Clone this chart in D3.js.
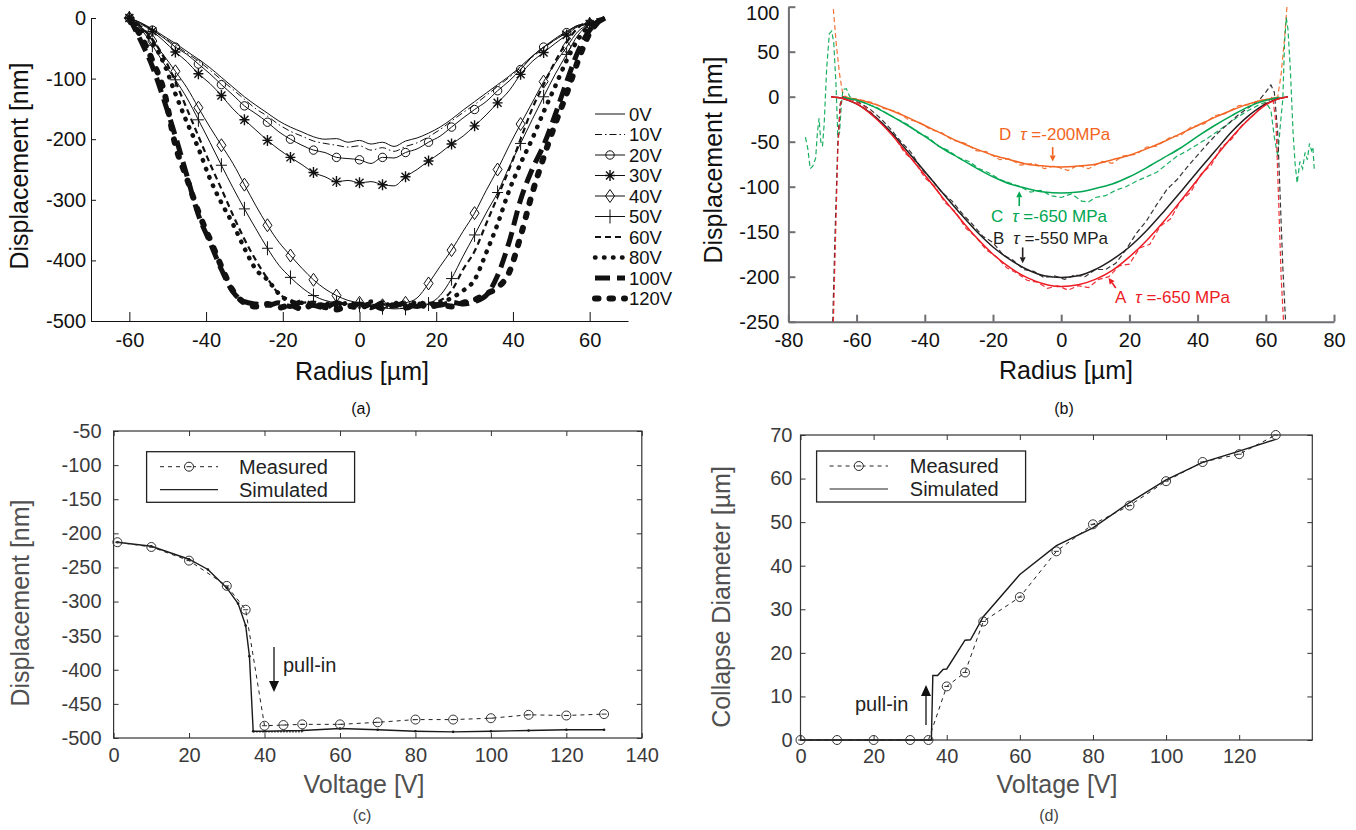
<!DOCTYPE html>
<html><head><meta charset="utf-8">
<script src="https://cdn.jsdelivr.net/npm/d3@7/dist/d3.min.js"></script>
<style>html,body{margin:0;padding:0;background:#fff;}</style>
</head><body>
<svg id="fig" width="1356" height="830" xmlns="http://www.w3.org/2000/svg"></svg>
<script>
// ======================= DATA =======================
// ---- Panel (a): displacement profiles vs radius for each bias voltage ----
const radiusA = [-60,-57,-54,-51,-48,-45,-42,-39,-36,-33,-30,-27,-24,-21,-18,-15,-12,-9,-6,-3,0,3,6,9,12,15,18,21,24,27,30,33,36,39,42,45,48,51,54,57,60,62,64];
const disp0V   = [0,-8,-18,-30,-42,-55,-68,-82,-98,-114,-130,-144,-157,-170,-180,-188,-196,-200,-199,-205,-202,-208,-205,-212,-203,-198,-190,-180,-167,-152,-138,-124,-110,-96,-80,-63,-48,-34,-22,-12,-8,-4,0];
const disp10V  = [0,-9,-20,-32,-45,-58,-71,-86,-102,-118,-134,-150,-162,-176,-187,-195,-203,-207,-210,-213,-211,-218,-214,-220,-212,-206,-196,-184,-170,-156,-143,-128,-113,-98,-82,-65,-50,-36,-24,-13,-9,-4,0];
const disp20V  = [0,-8,-20,-33,-48,-60,-76,-92,-110,-127,-145,-158,-172,-188,-200,-210,-218,-222,-230,-232,-234,-240,-230,-231,-222,-216,-205,-195,-180,-165,-151,-138,-120,-104,-85,-64,-48,-36,-24,-12,-10,-4,0];
const disp30V  = [0,-10,-22,-38,-56,-72,-92,-108,-128,-150,-168,-185,-202,-217,-230,-242,-255,-262,-270,-268,-272,-270,-275,-277,-262,-250,-236,-223,-208,-195,-178,-160,-140,-120,-93,-72,-57,-42,-28,-14,-10,-5,0];
const disp40V  = [0,-15,-38,-62,-88,-115,-148,-180,-210,-240,-275,-310,-342,-370,-392,-413,-432,-447,-458,-466,-470,-472,-474,-473,-470,-462,-438,-410,-383,-352,-322,-285,-250,-211,-175,-140,-105,-75,-48,-22,-10,-4,0];
const disp50V  = [0,-18,-45,-75,-102,-132,-168,-205,-243,-280,-315,-348,-380,-408,-428,-445,-458,-466,-470,-472,-474,-476,-478,-480,-479,-478,-472,-458,-430,-393,-358,-322,-288,-246,-207,-168,-130,-93,-60,-28,-10,-4,0];
const disp60V  = [0,-14,-35,-65,-105,-150,-195,-240,-282,-325,-365,-400,-430,-455,-465,-470,-468,-472,-470,-474,-471,-475,-472,-476,-473,-471,-470,-466,-450,-415,-385,-340,-295,-250,-200,-150,-110,-72,-40,-16,-5,-2,0];
const disp80V  = [0,-18,-40,-75,-125,-172,-215,-265,-305,-340,-380,-415,-432,-455,-468,-470,-475,-471,-476,-470,-474,-468,-475,-470,-474,-469,-472,-470,-462,-450,-432,-388,-340,-285,-240,-200,-155,-113,-70,-35,-12,-5,0];
const disp100V = [0,-38,-80,-135,-195,-260,-325,-370,-415,-452,-468,-472,-474,-470,-476,-468,-474,-478,-470,-476,-472,-478,-470,-475,-470,-476,-471,-474,-469,-472,-468,-458,-425,-370,-300,-250,-210,-160,-105,-55,-20,-8,0];
const disp120V = [0,-30,-70,-120,-210,-265,-320,-365,-410,-450,-470,-476,-472,-478,-474,-480,-473,-477,-481,-475,-478,-472,-479,-474,-478,-472,-477,-473,-476,-470,-465,-455,-445,-420,-360,-290,-230,-175,-125,-70,-25,-8,0];
const voltLabelsA = ['0V','10V','20V','30V','40V','50V','60V','80V','100V','120V'];
const radiusTicksA = [-60,-40,-20,0,20,40,60];
const dispTicksA = [0,-100,-200,-300,-400,-500];

// ---- Panel (b): simulated (solid) and measured (dashed) profiles ----
const radiusB = [-67.5,-64,-60,-55,-50,-45,-40,-35,-30,-25,-20,-15,-10,-5,0,5,10,15,20,25,30,35,40,45,50,55,60,64,66.5];
const simA = [0,-2,-8,-22,-41,-64,-87,-111,-134,-156,-175,-190,-201,-208,-211,-209,-203,-193,-178,-160,-139,-116,-92,-68,-45,-25,-9,-2,0];
const simB = [0,-2,-8,-21,-39,-61,-83,-106,-128,-149,-167,-181,-192,-199,-201,-199,-192,-181,-167,-149,-128,-106,-83,-61,-39,-21,-8,-2,0];
const simC = [null,-1,-4,-11,-21,-32,-44,-57,-68,-79,-89,-97,-102,-106,-107,-106,-102,-97,-89,-79,-68,-57,-44,-32,-21,-11,-4,-1,null];
const simD = [null,-1,-3,-8,-15,-23,-32,-41,-50,-58,-65,-70,-75,-77,-78,-77,-75,-70,-65,-58,-50,-41,-32,-23,-15,-8,-3,-1,null];
const measD = [[-67.2,115],[-66,60],[-65,25],[-64,2],[-62,-2],[-58,-4],[-55,-7],[-52,-13],[-48,-17],[-45,-25],[-42,-28],[-38,-37],[-35,-40],[-32,-48],[-28,-52],[-25,-60],[-22,-61],[-18,-70],[-15,-69],[-12,-76],[-8,-74],[-5,-80],[-2,-77],[2,-82],[5,-76],[8,-80],[12,-72],[15,-74],[18,-66],[22,-64],[25,-56],[28,-55],[32,-45],[35,-43],[38,-34],[42,-30],[45,-21],[48,-19],[52,-10],[55,-9],[58,-4],[62,-3],[63.5,0],[64.5,25],[65.5,65],[66.5,115]];
const measC = [[-75,-45],[-74.3,-58],[-73.6,-80],[-72.8,-77],[-72,-68],[-71.5,-40],[-71,-24],[-70.5,-50],[-70,-55],[-69.5,-30],[-68.8,30],[-68,70],[-67.3,73],[-66.7,60],[-66,10],[-65.5,-45],[-65,-40],[-64.5,-10],[-64,8],[-63,9],[-62,0],[-60,-3],[-57,-8],[-54,-12],[-51,-19],[-48,-25],[-45,-31],[-42,-40],[-39,-45],[-36,-55],[-33,-60],[-30,-68],[-27,-72],[-24,-80],[-21,-85],[-18,-92],[-15,-96],[-12,-100],[-9,-106],[-6,-104],[-3,-110],[0,-112],[3,-108],[6,-116],[8,-117],[10,-112],[13,-110],[16,-104],[19,-100],[22,-94],[25,-89],[28,-84],[31,-75],[34,-66],[37,-60],[40,-53],[43,-46],[46,-38],[49,-30],[52,-22],[55,-15],[58,-9],[60,-6],[61.5,-15],[62.5,-45],[63.5,-66],[64.3,-30],[65,-2],[65.5,60],[66,88],[66.5,75],[67.2,30],[68,-40],[68.6,-75],[69.2,-96],[70,-72],[70.8,-80],[71.5,-62],[72.2,-70],[72.8,-52],[73.4,-60],[73.8,-56],[74.2,-80]];
const measB = [[-67,-250],[-66.3,-150],[-65.5,-50],[-64.8,-8],[-64,0],[-62,-2],[-59,-7],[-56,-14],[-53,-24],[-50,-36],[-47,-50],[-44,-62],[-41,-80],[-38,-92],[-35,-106],[-32,-116],[-29,-130],[-26,-142],[-23,-155],[-20,-162],[-17,-176],[-14,-182],[-11,-192],[-8,-194],[-5,-201],[-2,-199],[1,-203],[4,-198],[7,-200],[10,-192],[13,-192],[16,-185],[19,-170],[22,-152],[25,-138],[28,-120],[31,-103],[34,-92],[37,-78],[40,-65],[43,-52],[46,-40],[49,-30],[52,-20],[55,-12],[58,-4],[60,5],[61.5,13],[62.5,5],[63.5,-40],[64.3,-120],[65,-190],[65.8,-250]];
const measA = [[-66.8,-250],[-66.2,-160],[-65.5,-60],[-64.8,-10],[-64,0],[-61,-4],[-58,-10],[-55,-20],[-52,-32],[-49,-44],[-46,-62],[-43,-72],[-40,-90],[-37,-100],[-34,-118],[-31,-128],[-28,-146],[-25,-156],[-22,-170],[-19,-178],[-16,-190],[-13,-196],[-10,-204],[-7,-206],[-4,-213],[-1,-210],[2,-215],[5,-210],[8,-212],[11,-203],[14,-200],[17,-188],[20,-186],[23,-168],[26,-164],[29,-144],[32,-136],[35,-116],[38,-106],[41,-86],[44,-76],[47,-56],[50,-47],[53,-32],[56,-22],[59,-10],[61,-4],[62,0],[63,-30],[63.8,-120],[64.5,-200],[65.2,-250]];
const caseLetters = ['A','B','C','D'];
const caseStress = ['-650 MPa','-550 MPa','-650 MPa','-200MPa'];
const radiusTicksB = [-80,-60,-40,-20,0,20,40,60,80];
const dispTicksB = [100,50,0,-50,-100,-150,-200,-250];

// ---- Panel (c): centre displacement vs voltage ----
const measVoltC = [1,10,20,30,35,40,45,50,60,70,80,90,100,110,120,130];
const measDispC = [-213,-220,-240,-277,-312,-482,-481,-480,-480,-477,-473,-473,-471,-466,-467,-465];
const simVoltC = [1,10,20,25,30,33,35,36,37,40,50,60,70,80,90,100,110,120,130];
const simDispC = [-213,-219,-238,-253,-280,-303,-335,-380,-490,-490,-489,-486,-488,-490,-491,-490,-489,-488,-488];
const floorVoltC = [37,50];
const floorDispC = [-491,-491];
const voltTicksC = [0,20,40,60,80,100,120,140];
const dispTicksC = [-500,-450,-400,-350,-300,-250,-200,-150,-100,-50];

// ---- Panel (d): collapse diameter vs voltage ----
const measVoltD = [0,10,20,30,35,40,45,50,60,70,80,90,100,110,120,130];
const measDiamD = [0,0,0,0,0,12.3,15.5,27.2,32.8,43.3,49.5,53.8,59.4,63.8,65.6,70];
const simVoltD = [0,35.8,36.2,37.5,39,40,45,46.5,50,60,70,80,90,100,110,120,130];
const simDiamD = [0,0,14.8,14.8,16.2,16.3,22.9,23,28.3,38,44.6,48.7,54.5,59.7,63.7,66.3,69];
const voltTicksD = [0,20,40,60,80,100,120];
const diamTicksD = [0,10,20,30,40,50,60,70];

// ======================= DRAWING =======================
const svg = d3.select('#fig');
const FONT = '"Liberation Sans", Arial, Helvetica, sans-serif';
const fmt = d => String(d);

function styleAxis(g, color, fs, lw, textColor) {
  g.selectAll('.tick text').attr('font-family', FONT).attr('font-size', fs).attr('fill', textColor || color);
  g.selectAll('.tick line').attr('stroke', color).attr('stroke-width', lw);
  g.select('.domain').attr('stroke', color).attr('stroke-width', lw);
}
function arrow(g, x1, y1, x2, y2, color, hl, hw, lw) {
  const dx = x2 - x1, dy = y2 - y1, L = Math.hypot(dx, dy), ux = dx / L, uy = dy / L;
  const bx = x2 - ux * hl, by = y2 - uy * hl;
  g.append('line').attr('x1', x1).attr('y1', y1).attr('x2', bx).attr('y2', by)
    .attr('stroke', color).attr('stroke-width', lw);
  g.append('path').attr('d', `M${x2},${y2}L${bx - uy * hw},${by + ux * hw}L${bx + uy * hw},${by - ux * hw}Z`).attr('fill', color);
}
function label(g, txt, x, y, fs, color, rot) {
  const t = g.append('text').attr('font-family', FONT).attr('font-size', fs).attr('fill', color)
    .attr('text-anchor', 'middle').text(txt);
  if (rot) t.attr('transform', `translate(${x},${y}) rotate(-90)`);
  else t.attr('x', x).attr('y', y);
  return t;
}

// ---------------- Panel (a) ----------------
(function () {
  const g = svg.append('g');
  const x = d3.scaleLinear().domain([-70, 70]).range([91, 628]);
  const y = d3.scaleLinear().domain([-500, 0]).range([321, 18]);
  const ax = g.append('g').attr('transform', 'translate(0,321)')
    .call(d3.axisBottom(x).tickValues(radiusTicksA).tickSizeInner(-9).tickSizeOuter(0).tickPadding(12).tickFormat(fmt));
  styleAxis(ax, '#111', 20, 1);
  const ay = g.append('g').attr('transform', 'translate(91,0)')
    .call(d3.axisLeft(y).tickValues(dispTicksA).tickSizeInner(-5).tickSizeOuter(0).tickPadding(5).tickFormat(fmt));
  styleAxis(ay, '#111', 20, 1);

  const series = [disp0V, disp10V, disp20V, disp30V, disp40V, disp50V, disp60V, disp80V, disp100V, disp120V];
  const style = {
    '0V': { w: 1 }, '10V': { w: 1, dash: '7,3,1.5,3' },
    '20V': { w: 1, marker: 'circle' }, '30V': { w: 1, marker: 'asterisk' },
    '40V': { w: 1, marker: 'diamond' }, '50V': { w: 1, marker: 'plus' },
    '60V': { w: 2.2, dash: '6,4' }, '80V': { w: 4.5, dash: '0.5,8.5', cap: 'round' },
    '100V': { w: 5, dash: '15,7' }, '120V': { w: 6, dash: '3.5,11', cap: 'round' }
  };
  function drawMarker(gg, type, cx, cy) {
    if (type === 'circle') {
      gg.append('circle').attr('cx', cx).attr('cy', cy).attr('r', 4.2).attr('fill', 'none').attr('stroke', '#111').attr('stroke-width', 1);
      return;
    }
    let d;
    if (type === 'asterisk') d = `M${cx - 5},${cy}H${cx + 5}M${cx},${cy - 5.5}V${cy + 5.5}M${cx - 4},${cy - 4}L${cx + 4},${cy + 4}M${cx - 4},${cy + 4}L${cx + 4},${cy - 4}`;
    if (type === 'diamond') d = `M${cx},${cy - 6.5}L${cx + 4.5},${cy}L${cx},${cy + 6.5}L${cx - 4.5},${cy}Z`;
    if (type === 'plus') d = `M${cx - 5.5},${cy}H${cx + 5.5}M${cx},${cy - 7}V${cy + 7}`;
    gg.append('path').attr('d', d).attr('fill', 'none').attr('stroke', '#111').attr('stroke-width', type === 'asterisk' ? 1.4 : 1);
  }
  const line = d3.line().x((d, i) => x(radiusA[i])).y(d => y(d)).curve(d3.curveMonotoneX);
  series.forEach((vals, k) => {
    const st = style[voltLabelsA[k]];
    g.append('path').attr('d', line(vals)).attr('fill', 'none').attr('stroke', '#111')
      .attr('stroke-width', st.w).attr('stroke-dasharray', st.dash || null)
      .attr('stroke-linecap', st.cap || 'butt');
    if (st.marker) {
      vals.forEach((v, i) => { if (i % 2 === 0 && i <= 40) drawMarker(g, st.marker, x(radiusA[i]), y(v)); });
    }
  });
  // legend
  voltLabelsA.forEach((lab, k) => {
    const st = style[lab];
    const cy = 114 + k * 20.5;
    g.append('line').attr('x1', 595).attr('x2', 625).attr('y1', cy).attr('y2', cy)
      .attr('stroke', '#111').attr('stroke-width', st.w).attr('stroke-dasharray', st.dash || null)
      .attr('stroke-linecap', st.cap || 'butt');
    if (st.marker) drawMarker(g, st.marker, 610, cy);
    g.append('text').attr('x', 629).attr('y', cy + 6.5).attr('font-family', FONT).attr('font-size', 18.5)
      .attr('fill', '#111').text(lab);
  });
  label(g, 'Displacement [nm]', 28, 166, 25, '#111', true);
  label(g, 'Radius [µm]', 362, 380, 25, '#111');
  label(g, '(a)', 361, 414, 16, '#111');
})();

// ---------------- Panel (b) ----------------
(function () {
  const g = svg.append('g');
  const x = d3.scaleLinear().domain([-80, 80]).range([788.4, 1334]);
  const y = d3.scaleLinear().domain([-250, 100]).range([321.7, 6.7]);
  svg.append('defs').append('clipPath').attr('id', 'clipB').append('rect')
    .attr('x', x(-80)).attr('y', y(100)).attr('width', x(80) - x(-80)).attr('height', y(-250) - y(100));
  const ax = g.append('g').attr('transform', `translate(0,${y(-250)})`)
    .call(d3.axisBottom(x).tickValues(radiusTicksB).tickSizeInner(-7).tickSizeOuter(0).tickPadding(11).tickFormat(fmt));
  styleAxis(ax, '#6d6e71', 20, 2, '#111');
  const ay = g.append('g').attr('transform', `translate(${x(-80)},0)`)
    .call(d3.axisLeft(y).tickValues(dispTicksB).tickSizeInner(-7).tickSizeOuter(0).tickPadding(9).tickFormat(fmt));
  styleAxis(ay, '#6d6e71', 20, 2, '#111');
  ay.selectAll('.tick').filter(d => d === 100).select('text').attr('dy', '0.62em');

  const colors = ['#ed1c24', '#231f20', '#00a651', '#f26522'];
  const plot = g.append('g').attr('clip-path', 'url(#clipB)');
  const lineM = d3.line().x(d => x(d[0])).y(d => y(d[1]));
  [measD, measC, measB, measA].forEach((m, k) => {
    const c = colors[3 - k];
    plot.append('path').attr('d', lineM(m)).attr('fill', 'none').attr('stroke', c)
      .attr('stroke-width', 1.2).attr('stroke-dasharray', '5,3').attr('opacity', 0.9);
  });
  const lineS = d3.line().defined(d => d != null).x((d, i) => x(radiusB[i])).y(d => y(d)).curve(d3.curveMonotoneX);
  [simD, simC, simB, simA].forEach((s, k) => {
    plot.append('path').attr('d', lineS(s)).attr('fill', 'none').attr('stroke', colors[3 - k]).attr('stroke-width', 1.5);
  });
  // annotations
  const pos = [[1115, 303], [993, 244], [991, 222], [999, 140]];
  caseLetters.forEach((L, k) => {
    const t = g.append('text').attr('x', pos[k][0]).attr('y', pos[k][1]).attr('font-family', FONT)
      .attr('font-size', 17).attr('fill', colors[k]);
    t.append('tspan').text(L);
    t.append('tspan').attr('dx', 9).attr('font-style', 'italic').text('τ');
    t.append('tspan').text(' =' + caseStress[k]);
  });
  arrow(g, x(16), y(-212.5), x(13.9), y(-201.4), colors[0], 6, 3, 1.6);
  arrow(g, x(-11.3), y(-167.5), x(-11.3), y(-185), colors[1], 6, 3, 1.6);
  arrow(g, x(-12.3), y(-121.5), x(-12.3), y(-105), colors[2], 6, 3, 1.6);
  arrow(g, x(-2.5), y(-56), x(-2.5), y(-72), colors[3], 6, 3, 1.6);

  label(g, 'Displacement [nm]', 722, 160, 25, '#111', true);
  label(g, 'Radius [µm]', 1066, 379, 25, '#111');
  label(g, '(b)', 1064, 414, 16, '#111');
})();

// ---------------- helper for boxed panels ----------------
function boxedAxes(g, x, y, xt, yt, xPad, yPad) {
  const [x0, x1] = x.range(), [y0, y1] = y.range();
  const grey = '#333', tgrey = '#3a3a3a';
  const b = g.append('g').attr('transform', `translate(0,${y0})`)
    .call(d3.axisBottom(x).tickValues(xt).tickSizeInner(-5).tickSizeOuter(0).tickPadding(xPad).tickFormat(fmt));
  const t = g.append('g').attr('transform', `translate(0,${y1})`)
    .call(d3.axisTop(x).tickValues(xt).tickSizeInner(-5).tickSizeOuter(0).tickFormat(''));
  const l = g.append('g').attr('transform', `translate(${x0},0)`)
    .call(d3.axisLeft(y).tickValues(yt).tickSizeInner(-5).tickSizeOuter(0).tickPadding(yPad).tickFormat(fmt));
  const r = g.append('g').attr('transform', `translate(${x1},0)`)
    .call(d3.axisRight(y).tickValues(yt).tickSizeInner(-5).tickSizeOuter(0).tickFormat(''));
  [b, t, l, r].forEach(a => { styleAxis(a, grey, 20, 1, tgrey); a.select('.domain').remove(); });
  g.append('rect').attr('x', x0).attr('y', y1).attr('width', x1 - x0).attr('height', y0 - y1)
    .attr('fill', 'none').attr('stroke', grey).attr('stroke-width', 1.2);
}
function legendBox(g, bx, by, bw, bh, lx0, lx1, tx) {
  g.append('rect').attr('x', bx).attr('y', by).attr('width', bw).attr('height', bh)
    .attr('fill', '#fff').attr('stroke', '#222').attr('stroke-width', 1.3);
  const r1 = by + 15, r2 = by + 38;
  g.append('line').attr('x1', lx0).attr('x2', lx1).attr('y1', r1).attr('y2', r1)
    .attr('stroke', '#222').attr('stroke-width', 1).attr('stroke-dasharray', '4,4');
  g.append('circle').attr('cx', (lx0 + lx1) / 2).attr('cy', r1).attr('r', 4.5).attr('fill', '#fff').attr('stroke', '#222');
  g.append('line').attr('x1', (lx0 + lx1) / 2 - 2.5).attr('x2', (lx0 + lx1) / 2 + 2.5).attr('y1', r1).attr('y2', r1).attr('stroke', '#222');
  g.append('line').attr('x1', lx0).attr('x2', lx1).attr('y1', r2).attr('y2', r2).attr('stroke', '#222').attr('stroke-width', 1.2);
  g.append('text').attr('x', tx).attr('y', r1 + 7).attr('font-family', FONT).attr('font-size', 20).attr('fill', '#222').text('Measured');
  g.append('text').attr('x', tx).attr('y', r2 + 7).attr('font-family', FONT).attr('font-size', 20).attr('fill', '#222').text('Simulated');
}
function measMarks(g, xs, ys, x, y) {
  xs.forEach((v, i) => {
    const cx = x(v), cy = y(ys[i]);
    g.append('circle').attr('cx', cx).attr('cy', cy).attr('r', 4.5).attr('fill', 'none').attr('stroke', '#333').attr('stroke-width', 1);
    g.append('line').attr('x1', cx - 2.5).attr('x2', cx + 2.5).attr('y1', cy).attr('y2', cy).attr('stroke', '#333').attr('stroke-width', 1);
  });
}

// ---------------- Panel (c) ----------------
(function () {
  const g = svg.append('g');
  const x = d3.scaleLinear().domain([0, 140]).range([113.6, 641.8]);
  const y = d3.scaleLinear().domain([-500, -50]).range([738, 431]);
  boxedAxes(g, x, y, voltTicksC, dispTicksC, 10, 12);
  const line = d3.line().x(d => x(d[0])).y(d => y(d[1]));
  const meas = measVoltC.map((v, i) => [v, measDispC[i]]);
  const sim = simVoltC.map((v, i) => [v, simDispC[i]]);
  const floor = floorVoltC.map((v, i) => [v, floorDispC[i]]);
  g.append('path').attr('d', line(floor)).attr('fill', 'none').attr('stroke', '#333').attr('stroke-width', 1.5).attr('stroke-dasharray', '1.5,1.5');
  g.append('path').attr('d', line(sim)).attr('fill', 'none').attr('stroke', '#1a1a1a').attr('stroke-width', 1.4);
  sim.forEach(d => g.append('circle').attr('cx', x(d[0])).attr('cy', y(d[1])).attr('r', 1.3).attr('fill', '#1a1a1a'));
  g.append('path').attr('d', line(meas)).attr('fill', 'none').attr('stroke', '#222').attr('stroke-width', 1).attr('stroke-dasharray', '4,4');
  measMarks(g, measVoltC, measDispC, x, y);
  legendBox(g, 146.6, 451.7, 208, 50.6, 160, 218, 239);
  arrow(g, 274, 647, 274, 692, '#111', 11, 5, 1.3);
  g.append('text').attr('x', 283).attr('y', 672).attr('font-family', FONT).attr('font-size', 20).attr('fill', '#222').text('pull-in');
  label(g, 'Displacement [nm]', 29, 603, 25, '#505050', true);
  label(g, 'Voltage [V]', 364, 793, 25, '#505050');
  label(g, '(c)', 362, 821, 16, '#444');
})();

// ---------------- Panel (d) ----------------
(function () {
  const g = svg.append('g');
  const x = d3.scaleLinear().domain([0, 140]).range([800.5, 1312.3]);
  const y = d3.scaleLinear().domain([0, 70]).range([740, 435]);
  boxedAxes(g, x, y, voltTicksD, diamTicksD, 9, 8);
  const line = d3.line().x(d => x(d[0])).y(d => y(d[1]));
  const meas = measVoltD.map((v, i) => [v, measDiamD[i]]);
  const sim = simVoltD.map((v, i) => [v, simDiamD[i]]);
  g.append('path').attr('d', line(sim)).attr('fill', 'none').attr('stroke', '#1a1a1a').attr('stroke-width', 1.4);
  g.append('path').attr('d', line(meas)).attr('fill', 'none').attr('stroke', '#222').attr('stroke-width', 1).attr('stroke-dasharray', '4,4');
  measMarks(g, measVoltD, measDiamD, x, y);
  legendBox(g, 816.6, 451, 209, 51, 829.6, 888, 909.8);
  arrow(g, 926, 725, 926, 685, '#111', 11, 5, 1.3);
  g.append('text').attr('x', 855).attr('y', 711).attr('font-family', FONT).attr('font-size', 20).attr('fill', '#222').text('pull-in');
  label(g, 'Collapse Diameter [µm]', 730, 597, 25, '#505050', true);
  label(g, 'Voltage [V]', 1057, 793, 25, '#505050');
  label(g, '(d)', 1049, 821, 16, '#444');
})();
</script>
</body></html>
